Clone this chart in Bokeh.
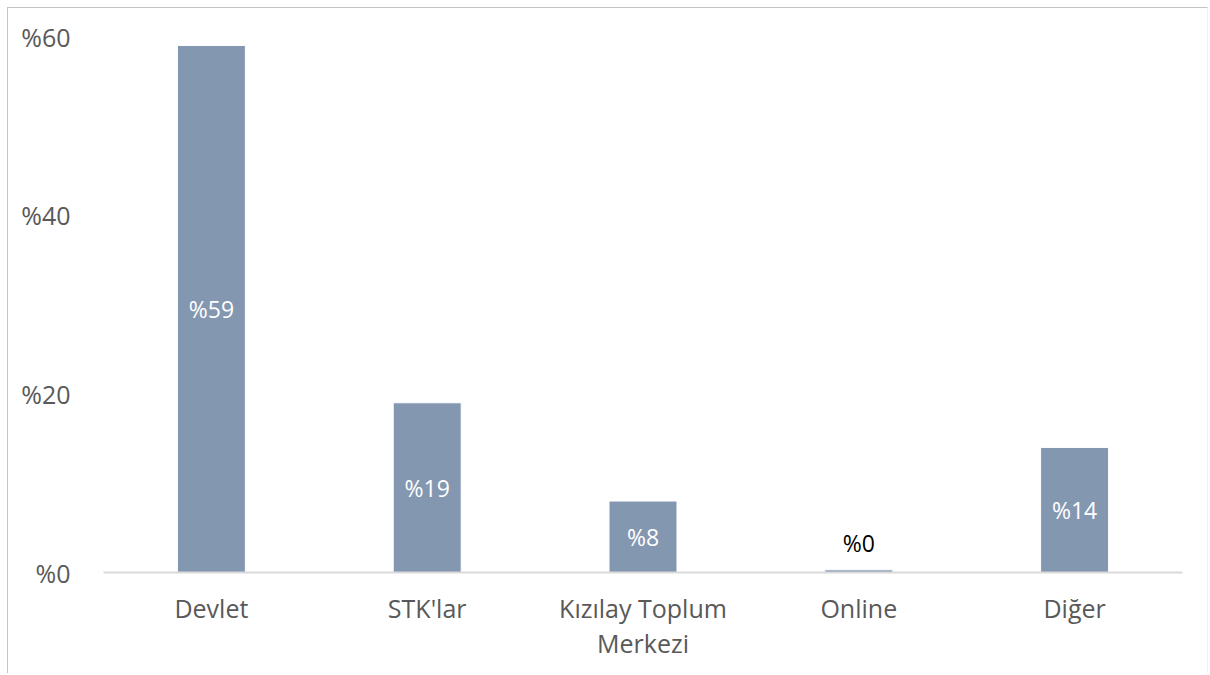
from bokeh.plotting import figure
from bokeh.models import ColumnDataSource, Range1d, FactorRange
from bokeh.core.properties import value
from bokeh.embed import file_html
from bokeh.resources import INLINE

categories = ["Devlet", "STK'lar", "Kızılay Toplum Merkezi", "Online", "Diğer"]
values = [59, 19, 8, 0.3, 14]
labels = ["%59", "%19", "%8", "%0", "%14"]
y_ticks = [0, 20, 40, 60]
y_tick_labels = ["%0", "%20", "%40", "%60"]

FONT = "Open Sans"
BAR = "#8497b0"
GREY = "#595959"

# axis factors: the long category is wrapped onto two lines
factors = [c.replace("Toplum ", "Toplum\n") for c in categories]

inside = [i for i, v in enumerate(values) if v >= 3]
outside = [i for i, v in enumerate(values) if v < 3]

src = ColumnDataSource(dict(cat=factors, val=values))
src_in = ColumnDataSource(dict(cat=[factors[i] for i in inside],
                               mid=[values[i] / 2 for i in inside],
                               lab=[labels[i] for i in inside]))
src_out = ColumnDataSource(dict(cat=[factors[i] for i in outside],
                                top=[values[i] for i in outside],
                                lab=[labels[i] for i in outside]))

p = figure(width=1201, height=666, x_range=FactorRange(*factors, range_padding=0),
           y_range=Range1d(0, 60), output_backend="svg", toolbar_location=None,
           min_border_left=95, min_border_right=27, min_border_top=28, min_border_bottom=102)
p.styles = {"margin-left": "7px", "margin-top": "7px",
            "border-left": "1px solid #c4c4c4", "border-top": "1px solid #c4c4c4",
            "border-right": "1px solid #f0f0f0"}
p.outline_line_color = None
p.background_fill_color = "white"
p.border_fill_color = "white"

p.vbar(x="cat", top="val", bottom=0, width=0.315, source=src,
       fill_color=BAR, line_color="white", line_width=1)

p.text(x="cat", y="mid", text="lab", source=src_in, text_color="white",
       text_font=value(FONT), text_font_size="23px",
       text_align="center", text_baseline="middle")
p.text(x="cat", y="top", text="lab", source=src_out, text_color="black",
       text_font=value(FONT), text_font_size="23px",
       text_align="center", text_baseline="bottom", y_offset=-11)

p.xgrid.visible = False
p.ygrid.visible = False

p.yaxis.ticker = y_ticks
p.yaxis.major_label_overrides = {t: l for t, l in zip(y_ticks, y_tick_labels)}
p.yaxis.axis_line_color = None
p.yaxis.major_tick_line_color = None
p.yaxis.minor_tick_line_color = None
p.yaxis.major_label_text_font = FONT
p.yaxis.major_label_text_font_size = "25px"
p.yaxis.major_label_text_color = GREY
p.yaxis.major_label_standoff = 27

p.xaxis.axis_line_color = "#d9d9d9"
p.xaxis.axis_line_width = 2
p.xaxis.major_tick_line_color = None
p.xaxis.minor_tick_line_color = None
p.xaxis.major_label_text_font = FONT
p.xaxis.major_label_text_font_size = "25px"
p.xaxis.major_label_text_color = GREY
p.xaxis.major_label_text_line_height = 1.03
p.xaxis.major_label_standoff = 12

open("out.html", "w").write(file_html(p, INLINE))
